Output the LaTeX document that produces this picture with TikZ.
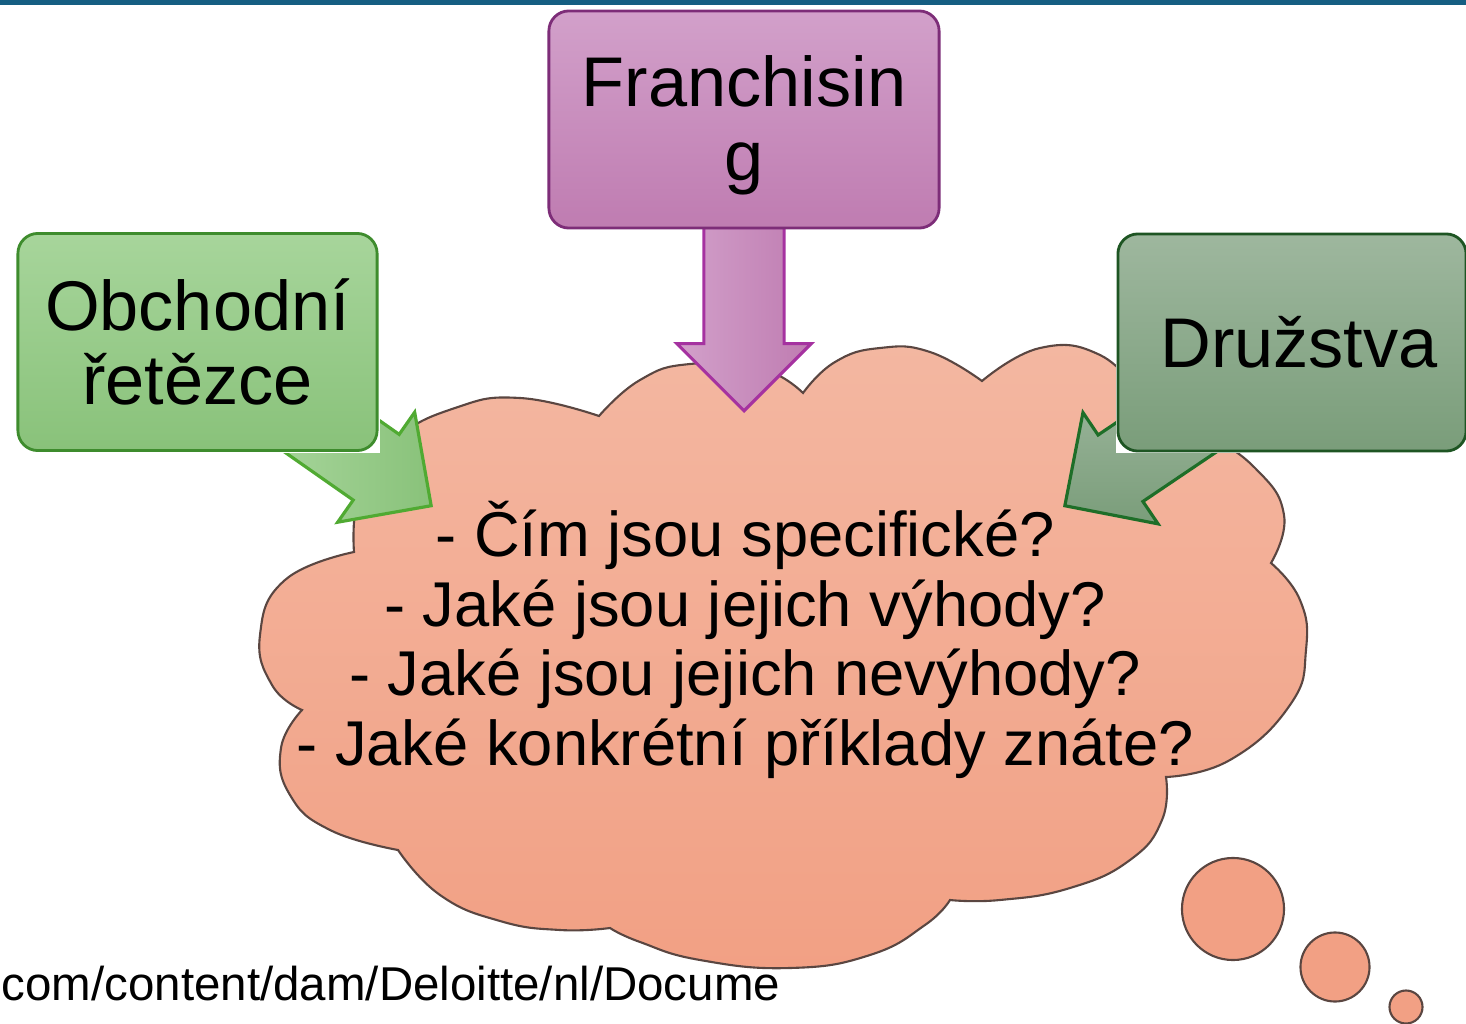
\documentclass[tikz,border=0pt]{standalone}
\usepackage{fontspec}
\setmainfont{Liberation Sans}
\usetikzlibrary{shapes.arrows}
\definecolor{barblue}{RGB}{21,94,130}
\definecolor{pinktop}{RGB}{210,160,202}
\definecolor{pinkbot}{RGB}{191,124,177}
\definecolor{pinkline}{RGB}{125,45,120}
\definecolor{pinkarrow}{RGB}{165,50,160}
\definecolor{greentop}{RGB}{167,213,155}
\definecolor{greenbot}{RGB}{137,194,122}
\definecolor{greenline}{RGB}{62,140,45}
\definecolor{greenarrow}{RGB}{80,170,50}
\definecolor{sagetop}{RGB}{158,183,158}
\definecolor{sagebot}{RGB}{122,157,122}
\definecolor{sageline}{RGB}{30,85,35}
\definecolor{sagearrow}{RGB}{30,110,40}
\definecolor{cloudtop}{RGB}{243,183,161}
\definecolor{cloudbot}{RGB}{242,160,132}
\definecolor{cloudline}{RGB}{90,70,65}
\begin{document}
\begin{tikzpicture}[x=0.01cm, y=-0.01cm,
  box/.style={draw, line width=0.8pt, rounded corners=0.2cm, align=center, inner sep=0pt,
    minimum height=2.17cm, font=\fontsize{20}{21}\selectfont},
  pinkbox/.style={box, draw=pinkline, top color=pinktop, bottom color=pinkbot, minimum width=3.9cm},
  greenbox/.style={box, draw=greenline, top color=greentop, bottom color=greenbot, minimum width=3.59cm},
  sagebox/.style={box, draw=sageline, top color=sagetop, bottom color=sagebot, minimum width=3.48cm},
  blockarrow/.style={single arrow, single arrow head extend=0.27cm, inner xsep=0pt,
    inner ysep=0.385cm, line width=0.9pt, draw, anchor=tip},
  bubble/.style={circle, draw=cloudline, fill=cloudbot, line width=0.6pt, inner sep=0pt}]
\useasboundingbox (0,0) rectangle (1466,1024);
\fill[barblue] (0,0) rectangle (1466,5);

\draw[cloudline, line width=0.6pt, top color=cloudtop, bottom color=cloudbot]
  plot[smooth, tension=0.8] coordinates {(354,552) (360,490) (395,440) (455,408) (520,398) (599,416)}
  -- plot[smooth, tension=0.8] coordinates {(599,416) (640,380) (690,364) (760,368) (803,393)}
  -- plot[smooth, tension=0.8] coordinates {(803,393) (835,362) (880,348) (930,352) (982,381)}
  -- plot[smooth, tension=0.8] coordinates {(982,381) (1040,348) (1100,355) (1140,395)}
  -- plot[smooth, tension=0.8] coordinates {(1140,395) (1200,430) (1255,468) (1284,515) (1271,563)}
  -- plot[smooth, tension=0.8] coordinates {(1271,563) (1300,600) (1306,650) (1290,705) (1230,760) (1166,777)}
  -- plot[smooth, tension=0.8] coordinates {(1166,777) (1162,820) (1130,860) (1070,888) (1000,900) (950,900)}
  -- plot[smooth, tension=0.8] coordinates {(950,900) (925,925) (870,955) (790,968) (700,960) (640,942) (610,928)}
  -- plot[smooth, tension=0.8] coordinates {(610,928) (560,930) (500,921) (440,895) (398,850)}
  -- plot[smooth, tension=0.8] coordinates {(398,850) (330,830) (290,795) (281,748) (302,710)}
  -- plot[smooth, tension=0.8] coordinates {(302,710) (272,685) (260,635) (285,580) (354,552)}
  -- cycle;

\node[blockarrow, draw=pinkarrow, left color=pinktop, right color=pinkbot,
  minimum height=1.83cm, rotate=-90] (arrF) at (744,413) {};
\node[blockarrow, draw=greenarrow, left color=greentop, right color=greenbot,
  minimum height=1.7cm, rotate=-35] (arrO) at (433,507) {};
\node[blockarrow, draw=sagearrow, top color=sagetop, bottom color=sagebot,
  minimum height=1.7cm, rotate=-146] (arrD) at (1063,507) {};

\fill[white] (16,231) rectangle (380,453);
\fill[white] (1116,232) rectangle (1466,453);

\node[pinkbox] (fran) at (744,119.5) {\rule{0pt}{0.62cm}Franchisin\\g};
\node[greenbox] (obch) at (197.5,342) {Obchodní\\řetězce};
\node[sagebox] (druz) at (1292,342.5) {\hspace*{0.14cm}Družstva};

\node[align=center, font=\fontsize{18}{19.8}\selectfont] (otazky) at (745,640)
  {- Čím jsou specifické?\\- Jaké jsou jejich výhody?\\- Jaké jsou jejich nevýhody?\\- Jaké konkrétní příklady znáte?};

\node[bubble, minimum size=1.02cm] (b1) at (1233,909) {};
\node[bubble, minimum size=0.69cm] (b2) at (1335,967) {};
\node[bubble, minimum size=0.33cm] (b3) at (1406,1007) {};

\node[anchor=base west, inner sep=0pt, font=\fontsize{13.5}{15}\selectfont] (zdroj) at (1,1000)
  {com/content/dam/Deloitte/nl/Docume};
\end{tikzpicture}
\end{document}
